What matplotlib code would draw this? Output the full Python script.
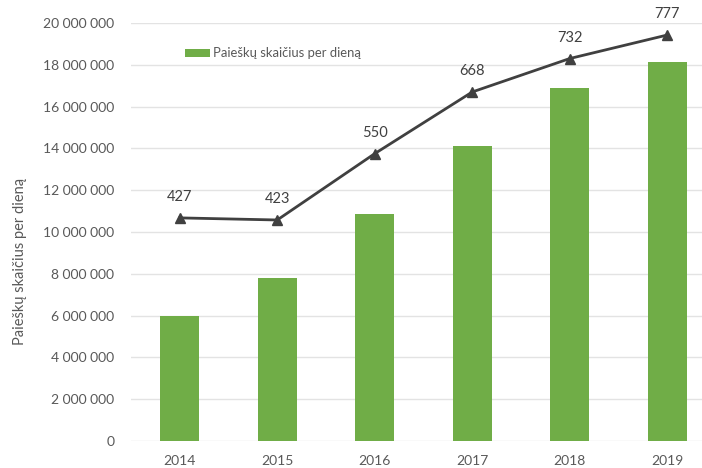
import matplotlib
matplotlib.use("Agg")
import matplotlib.pyplot as plt
from matplotlib.ticker import FuncFormatter

plt.rcParams['font.family'] = ['Lato', 'DejaVu Sans']

years = ["2014", "2015", "2016", "2017", "2018", "2019"]
searches = [6000000, 7800000, 10850000, 14100000, 16870000, 18150000]
line_values = [427, 423, 550, 668, 732, 777]
series_label = "Paieškų skaičius per dieną"

fig = plt.figure(figsize=(7.02, 4.68), dpi=100)
ax = fig.add_axes([131/702, (468-441)/468, 585/702, 418/468])
x = list(range(len(years)))
ax.bar(x, searches, width=0.4, color="#70AD47", label=series_label, zorder=2)
ax.set_xlim(-0.5, 5.5)
ax.set_ylim(0, 20000000)
ax.set_yticks(range(0, 20000001, 2000000))
ax.yaxis.set_major_formatter(FuncFormatter(lambda v, p: f"{int(v):,}".replace(",", " ")))
ax.set_xticks(x)
ax.set_xticklabels(years)
ax.grid(axis="y", color="#E3E3E3", linewidth=1, zorder=0)
for s in ax.spines.values():
    s.set_visible(False)
ax.tick_params(axis="both", length=0, labelsize=10, colors="#595959")
ax.tick_params(axis="y", pad=12)
ax.tick_params(axis="x", pad=10)
ax.set_ylabel(series_label, fontsize=10.5, color="#595959")
ax.yaxis.set_label_coords(-0.178, 0.43)

ax2 = ax.twinx()
ax2.set_ylim(0, 800)
ax2.plot(x, line_values, color="#404040", linewidth=2, marker="^", markersize=7.5, zorder=3)
for xi, v in zip(x, line_values):
    ax2.annotate(str(v), (xi, v), xytext=(0, 10), textcoords="offset points",
                 ha="center", va="bottom", fontsize=10.5, color="#404040")
ax2.set_yticks([])
for s in ax2.spines.values():
    s.set_visible(False)

ax.legend(loc="upper left", bbox_to_anchor=(0.073, 0.97), frameon=False,
          fontsize=9.4, labelcolor="#595959", handlelength=1.9, handleheight=0.55,
          handletextpad=0.2)

fig.savefig("out.png", dpi=100)
